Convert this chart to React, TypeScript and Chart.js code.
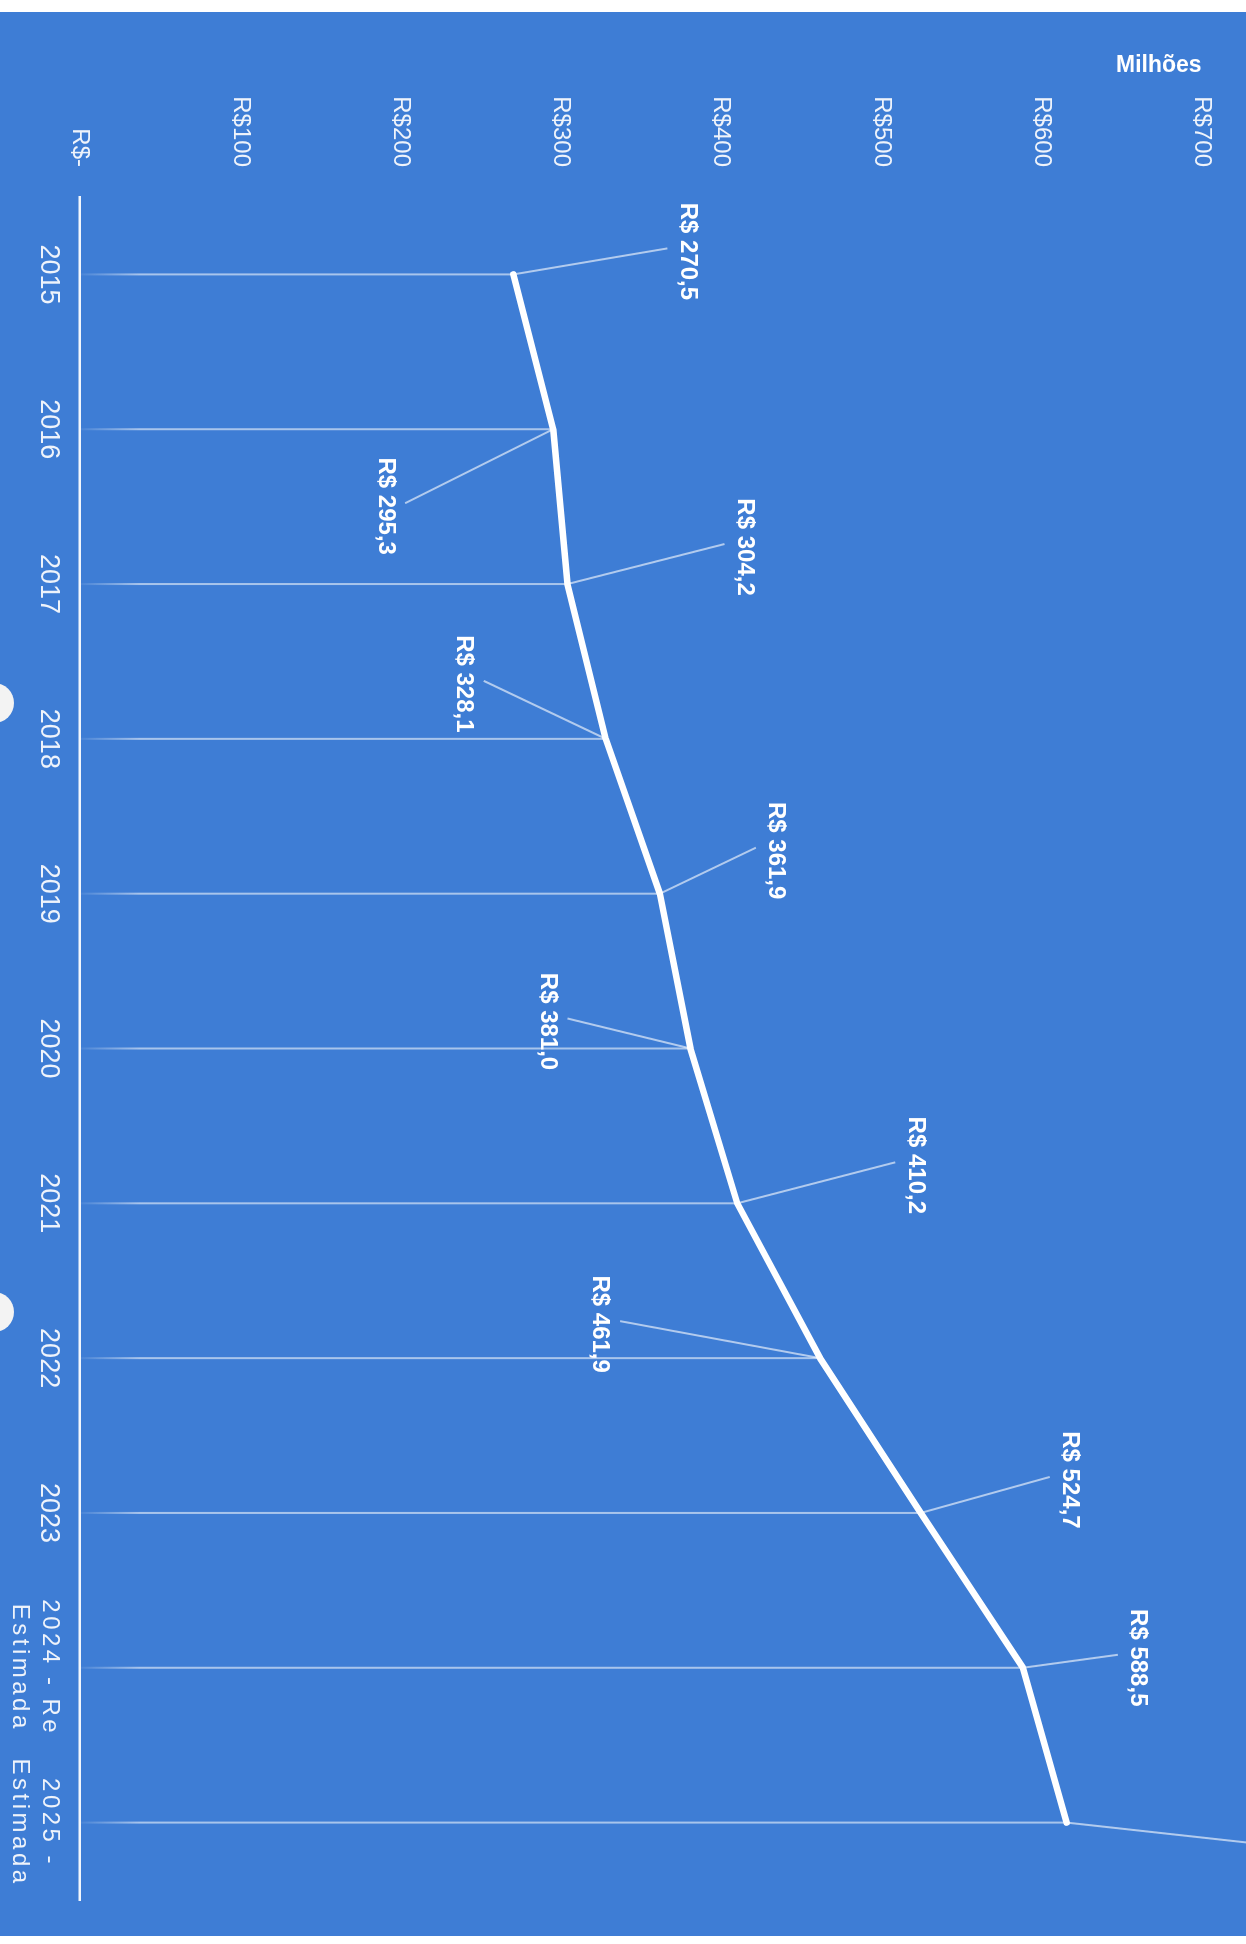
import React, { useEffect, useRef } from "react";
import { Chart, registerables, CategoryScale } from "chart.js";

Chart.register(...registerables);

// ---- data ----
const categories: (string | string[])[] = [
  "2015",
  "2016",
  "2017",
  "2018",
  "2019",
  "2020",
  "2021",
  "2022",
  "2023",
  ["2024 - Re", "Estimada"],
  ["2025 -", "Estimada"],
];
const values = [270.5, 295.3, 304.2, 328.1, 361.9, 381.0, 410.2, 461.9, 524.7, 588.5, 615.8];
const valueMin = 0;
const valueMax = 700;
const valueStep = 100;
const axisTitle = "Milhões";

// data-label offsets from each point (upright chart px: along categories, along values)
const labelShiftCat = [-23, 77, -37, -55, -43, -27, -38, -34, -33, -10, 24];
const labelShiftVal = [-174, 168, -177, 142, -116, 143, -178, 220, -149, -115, -210];

const FAMILY = '"Liberation Sans", Arial, Helvetica, sans-serif';
const BLUE = "#3e7dd5";
const TEXT = "#eef3fb";

const fmtValue = (v: number) => "R$ " + v.toFixed(1).replace(".", ",");

// category scale whose wrapped (multi-line) labels get a little letter spacing
class SpacedCategoryScale extends (CategoryScale as any) {
  static id = "spacedCategory";
  static defaults = { ...(CategoryScale as any).defaults };
  drawLabels(chartArea: any) {
    const self: any = this;
    const ctx = self.ctx;
    const all = self.getLabelItems(chartArea);
    ctx.save();
    ctx.letterSpacing = "0px";
    self._labelItems = all.filter((it: any) => !Array.isArray(it.label));
    super.drawLabels(chartArea);
    ctx.letterSpacing = "3.5px";
    self._labelItems = all.filter((it: any) => Array.isArray(it.label));
    super.drawLabels(chartArea);
    ctx.letterSpacing = "0px";
    self._labelItems = all;
    ctx.restore();
  }
}
Chart.register(SpacedCategoryScale as any);

const dropAndLabels = {
  id: "dropAndLabels",
  beforeDatasetsDraw(chart: any) {
    const meta = chart.getDatasetMeta(0);
    const { ctx, chartArea } = chart;
    ctx.save();
    const g = ctx.createLinearGradient(0, chartArea.bottom, 0, chartArea.bottom - 60);
    g.addColorStop(0, "rgba(255,255,255,0.05)");
    g.addColorStop(1, "rgba(255,255,255,0.55)");
    ctx.strokeStyle = g;
    ctx.lineWidth = 2;
    meta.data.forEach((pt: any) => {
      ctx.beginPath();
      ctx.moveTo(pt.x, pt.y);
      ctx.lineTo(pt.x, chartArea.bottom);
      ctx.stroke();
    });
    ctx.restore();
  },
  afterDatasetsDraw(chart: any) {
    const meta = chart.getDatasetMeta(0);
    const { ctx } = chart;
    ctx.save();
    meta.data.forEach((pt: any, i: number) => {
      const lx = pt.x + labelShiftCat[i];
      const ly = pt.y + labelShiftVal[i];
      const ex = lx - 3;
      const ey = ly + (labelShiftVal[i] < 0 ? 20 : -20);
      ctx.strokeStyle = "rgba(255,255,255,0.6)";
      ctx.lineWidth = 2;
      ctx.beginPath();
      ctx.moveTo(pt.x, pt.y);
      ctx.lineTo(ex, ey);
      ctx.stroke();
      ctx.fillStyle = "#ffffff";
      ctx.font = `bold 24px ${FAMILY}`;
      ctx.textAlign = "center";
      ctx.textBaseline = "middle";
      ctx.fillText(fmtValue(values[i]), lx, ly);
    });
    ctx.restore();
  },
};

export default function App() {
  const ref = useRef<HTMLCanvasElement | null>(null);

  useEffect(() => {
    if (!ref.current) return;
    const chart = new Chart(ref.current, {
      type: "line",
      data: {
        labels: categories as any,
        datasets: [
          {
            data: values,
            borderColor: "#ffffff",
            borderWidth: 6.5,
            pointRadius: 0,
            pointHoverRadius: 0,
            tension: 0,
            fill: false,
            borderJoinStyle: "round",
            borderCapStyle: "round",
          },
        ],
      },
      options: {
        animation: false,
        responsive: false,
        events: [],
        layout: { padding: { top: 29, right: 36, bottom: 0, left: 0 } },
        plugins: {
          legend: { display: false },
          tooltip: { enabled: false },
        },
        scales: {
          x: {
            type: "spacedCategory",
            offset: true,
            grid: { display: false, drawTicks: false },
            border: { display: true, color: "#f2f6fc", width: 2.5 },
            ticks: {
              autoSkip: false,
              maxRotation: 0,
              minRotation: 0,
              padding: 15,
              color: TEXT,
              font: (c: any) =>
                Array.isArray(categories[c.index])
                  ? { family: FAMILY, size: 24, lineHeight: 1.25 }
                  : { family: FAMILY, size: 27, lineHeight: 1.2 },
            },
            afterFit: (s: any) => {
              s.height = 80;
            },
          },
          y: {
            min: valueMin,
            max: valueMax,
            grid: { display: false, drawTicks: false },
            border: { display: false },
            ticks: {
              stepSize: valueStep,
              padding: 30,
              color: TEXT,
              font: { family: FAMILY, size: 24 },
              callback: (v: any) => (Number(v) === 0 ? "R$-" : "R$" + v),
            },
            title: {
              display: true,
              text: axisTitle,
              align: "end",
              color: "#ffffff",
              font: { family: FAMILY, size: 23, weight: "bold" },
              padding: { top: 40, bottom: 0 },
            },
            afterFit: (s: any) => {
              s.width = 185;
            },
          },
        },
      } as any,
      plugins: [dropAndLabels],
    });
    return () => chart.destroy();
  }, []);

  const hole = (top: number) => (
    <div
      style={{
        position: "absolute",
        left: -26,
        top,
        width: 40,
        height: 40,
        borderRadius: "50%",
        background: "#f3f3f3",
      }}
    />
  );

  return (
    <div
      style={{
        position: "absolute",
        left: 0,
        top: 12,
        width: 1246,
        height: 1924,
        background: BLUE,
        overflow: "hidden",
      }}
    >
      <div
        style={{
          position: "absolute",
          left: 0,
          top: 0,
          width: 1924,
          height: 1246,
          transformOrigin: "0 0",
          transform: "translateX(1246px) rotate(90deg)",
        }}
      >
        <canvas
          ref={ref}
          width={1924}
          height={1246}
          style={{ width: 1924, height: 1246, display: "block" }}
        />
      </div>
      {hole(671)}
      {hole(1280)}
    </div>
  );
}
